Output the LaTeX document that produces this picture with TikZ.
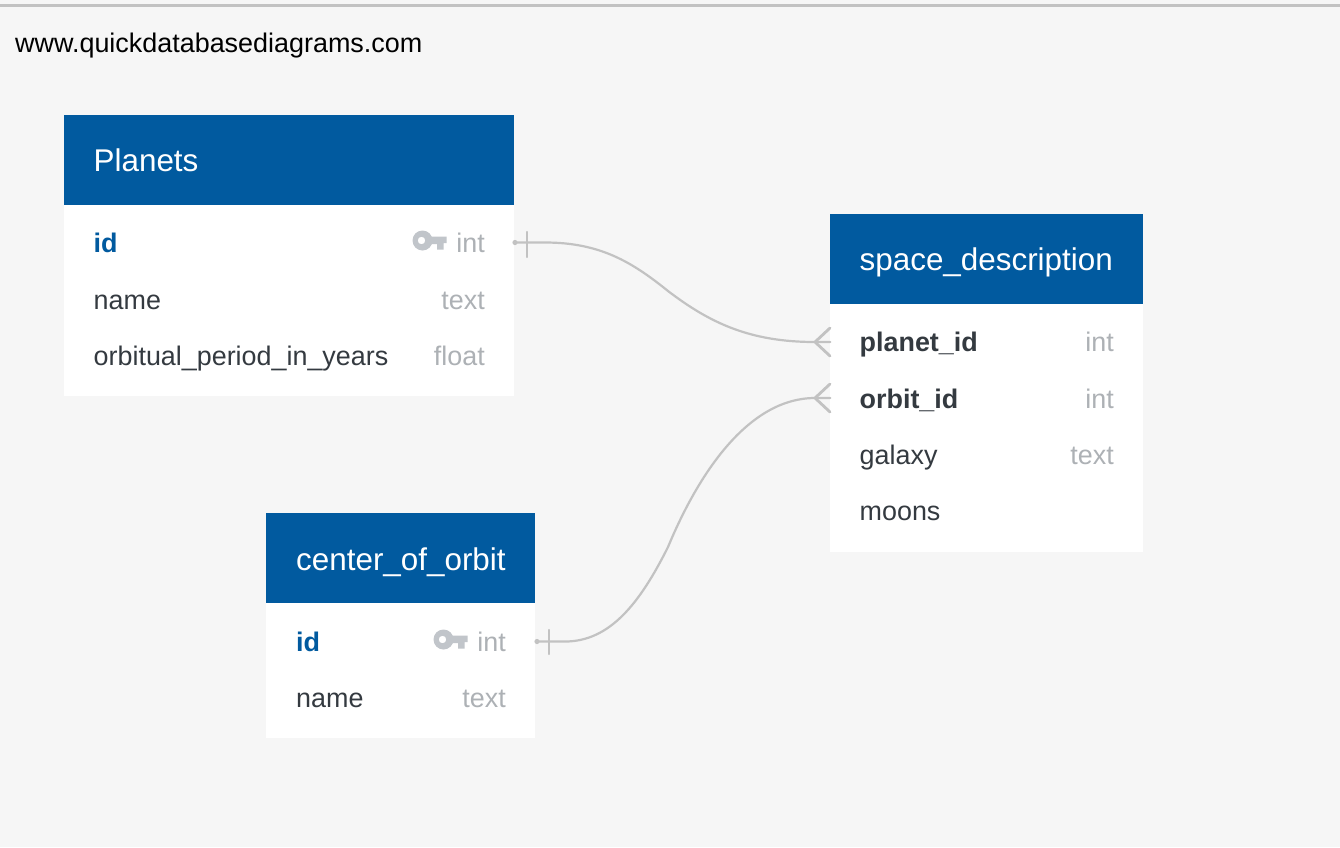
\documentclass[tikz,border=0pt]{standalone}
\usepackage{fontspec}
\setmainfont{Liberation Sans}
\definecolor{bgc}{HTML}{F6F6F6}
\definecolor{headc}{HTML}{015A9F}
\definecolor{linkc}{HTML}{C2C2C2}
\definecolor{typec}{HTML}{ADB1B5}
\definecolor{textc}{HTML}{343A40}
\definecolor{keyc}{HTML}{C1C5CA}
\tikzset{
  x=1pt,y=-1pt,
  tablebody/.style={fill=white,draw=none,inner sep=0pt,outer sep=0pt,anchor=north west},
  tablehead/.style={fill=headc,draw=none,inner sep=0pt,outer sep=0pt,anchor=north west},
  titletext/.style={anchor=base west,text=white,inner sep=0pt,font=\fontsize{31.4}{36}\selectfont},
  fieldtext/.style={anchor=base west,text=textc,inner sep=0pt,font=\fontsize{26.9}{31}\selectfont},
  pktext/.style={fieldtext,text=headc,font=\fontsize{26.9}{31}\selectfont\bfseries},
  fktext/.style={fieldtext,font=\fontsize{26.9}{31}\selectfont\bfseries},
  typetext/.style={anchor=base east,text=typec,inner sep=0pt,font=\fontsize{26.9}{31}\selectfont},
  link/.style={draw=linkc,line width=2.2pt,line cap=round},
  crow/.style={draw=linkc,line width=2.8pt,line cap=round},
}
\newcommand{\keyicon}[2]{%
  \begin{scope}[shift={(#1,#2)}]
    \fill[keyc,even odd rule] (10,0) circle[radius=10] (9,0) circle[radius=3.8];
    \fill[keyc] (16,-4) -- (34,-4) -- (34,2.5) -- (31,2.5) -- (31,9) -- (24.5,9) -- (24.5,3.5) -- (16,3.5) -- cycle;
  \end{scope}}
\begin{document}
\begin{tikzpicture}
\useasboundingbox (0,0) rectangle (1340,847);
\fill[bgc] (0,0) rectangle (1340,847);
\fill[linkc] (0,3.5) rectangle (1340,7);
\node[anchor=base west,inner sep=0pt,text=black,font=\fontsize{26.93}{31}\selectfont] (site) at (15,52) {www.quickdatabasediagrams.com};

% Planets
\node[tablebody,minimum width=450pt,minimum height=191pt] (pbody) at (64,205) {};
\node[tablehead,minimum width=450pt,minimum height=90pt] (phead) at (64,115) {};
\node[titletext] (ptitle) at (93.5,171) {Planets};
\node[pktext] (p1) at (93.5,252) {id};
\node[typetext] (p1t) at (485,252) {int};
\keyicon{412.5}{240.5}
\node[fieldtext] (p2) at (93.5,309) {name};
\node[typetext] (p2t) at (485,309) {text};
\node[fieldtext] (p3) at (93.5,365) {orbitual\_period\_in\_years};
\node[typetext] (p3t) at (485,365) {float};

% space_description
\node[tablebody,minimum width=313pt,minimum height=248pt] (sbody) at (830,304) {};
\node[tablehead,minimum width=313pt,minimum height=90pt] (shead) at (830,214) {};
\node[titletext] (stitle) at (859.5,270) {space\_description};
\node[fktext] (s1) at (859.5,351) {planet\_id};
\node[typetext] (s1t) at (1114,351) {int};
\node[fktext] (s2) at (859.5,408) {orbit\_id};
\node[typetext] (s2t) at (1114,408) {int};
\node[fieldtext] (s3) at (859.5,464) {galaxy};
\node[typetext] (s3t) at (1114,464) {text};
\node[fieldtext] (s4) at (859.5,520) {moons};

% center_of_orbit
\node[tablebody,minimum width=269pt,minimum height=135pt] (cbody) at (266.4,603) {};
\node[tablehead,minimum width=269pt,minimum height=90pt] (chead) at (266.4,513) {};
\node[titletext] (ctitle) at (296,570) {center\_of\_orbit};
\node[pktext] (c1) at (296,651) {id};
\node[typetext] (c1t) at (506,651) {int};
\keyicon{433.5}{639.5}
\node[fieldtext] (c2) at (296,707) {name};
\node[typetext] (c2t) at (506,707) {text};

% connector anchors
\coordinate (a1) at (515,242.5);
\coordinate (am) at (668,291);
\coordinate (a2) at (815,342);
\coordinate (b1) at (537,641.5);
\coordinate (bm) at (668,547);
\coordinate (b2) at (815,398);
\coordinate (a2t) at (830,328);
\coordinate (a2c) at (830,342);
\coordinate (a2b) at (830,356);
\coordinate (b2t) at (830,384);
\coordinate (b2c) at (830,398);
\coordinate (b2b) at (830,412);
\coordinate (a3t) at (527,232);
\coordinate (a3b) at (527,257);
\coordinate (b3t) at (549,630);
\coordinate (b3b) at (549,654);

\draw[link] (a1) -- (545,242.5) .. controls (600,242.5) and (632,262) .. (am) .. controls (710,323) and (750,342) .. (a2) -- (a2c);
\draw[crow] (a2t) -- (a2) -- (a2b);
\draw[crow] (a2) -- (a2c);
\draw[link] (a3t) -- (a3b);
\fill[linkc] (a1) circle[radius=2.6];
\draw[link] (b1) -- (565,641.5) .. controls (610,641.5) and (640,603) .. (bm) .. controls (700,470) and (750,398) .. (b2) -- (b2c);
\draw[crow] (b2t) -- (b2) -- (b2b);
\draw[crow] (b2) -- (b2c);
\draw[link] (b3t) -- (b3b);
\fill[linkc] (b1) circle[radius=2.6];
\end{tikzpicture}
\end{document}
